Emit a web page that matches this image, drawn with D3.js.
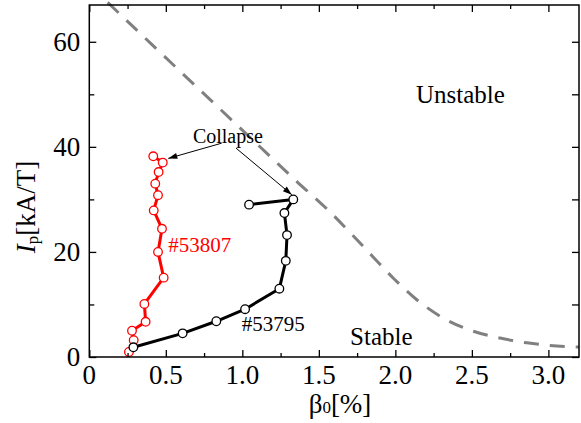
<!DOCTYPE html>
<html><head><meta charset="utf-8">
<script src="https://cdn.jsdelivr.net/npm/d3@7/dist/d3.min.js"></script>
</head><body style="margin:0">
<svg id="c" width="581" height="423" font-family="Liberation Serif"></svg>
<script>
// ---- data ----
const xTicks = [0, 0.5, 1.0, 1.5, 2.0, 2.5, 3.0];
const xTickLabels = ["0", "0.5", "1.0", "1.5", "2.0", "2.5", "3.0"];
const yTicks = [0, 20, 40, 60];
const yTickLabels = ["0", "20", "40", "60"];

const shotRedX = [0.259, 0.290, 0.279, 0.368, 0.360, 0.486, 0.449, 0.475, 0.421, 0.449, 0.431, 0.453, 0.480, 0.418];
const shotRedY = [0.95, 3.2, 5.0, 6.7, 10.1, 15.1, 20.0, 24.4, 27.9, 30.8, 33.0, 35.2, 37.0, 38.2];

const shotBlackX = [0.288, 0.610, 0.830, 1.018, 1.242, 1.284, 1.292, 1.275, 1.333, 1.044];
const shotBlackY = [1.85, 4.5, 6.8, 9.1, 13.0, 18.3, 23.2, 27.4, 30.0, 29.0];

const boundaryX = [0.12, 0.408, 0.8, 1.159, 1.356, 1.552, 1.704, 1.856, 1.987, 2.140, 2.314, 2.510, 2.684, 2.859, 3.055, 3.2];
const boundaryY = [67.5, 59.5, 48.7, 38.8, 33.4, 28.2, 23.7, 19.0, 15.0, 10.9, 7.4, 4.9, 3.6, 2.7, 2.1, 1.9];

// annotation arrows in data units
const arrowFrom = [[0.865, 40.7], [0.959, 39.75]];
const arrowTo = [[0.516, 37.8], [1.323, 30.9]];

// ---- layout ----
const W = 581, H = 423;
const m = {l: 89.3, r: 2, t: 5, b: 66};
const svg = d3.select("#c");
const x = d3.scaleLinear().domain([0, 3.2]).range([m.l, W - m.r]);
const y = d3.scaleLinear().domain([0, 67]).range([H - m.b, m.t]);

// boundary curve
const bnd = d3.zip(boundaryX, boundaryY);
svg.append("path").datum(bnd)
  .attr("d", d3.line().x(d => x(d[0])).y(d => y(d[1])).curve(d3.curveMonotoneX))
  .attr("fill", "none").attr("stroke", "#808080").attr("stroke-width", 3)
  .attr("stroke-dasharray", "15,11");

function series(xs, ys, col) {
  const pts = d3.zip(xs, ys);
  svg.append("path").datum(pts)
    .attr("d", d3.line().x(d => x(d[0])).y(d => y(d[1])))
    .attr("fill", "none").attr("stroke", col).attr("stroke-width", 3).attr("stroke-linejoin", "round");
  svg.selectAll(null).data(pts).enter().append("circle")
    .attr("cx", d => x(d[0])).attr("cy", d => y(d[1])).attr("r", 4.3)
    .attr("fill", "#fff").attr("stroke", col).attr("stroke-width", 1.3);
}
series(shotRedX, shotRedY, "#ff0000");
series(shotBlackX, shotBlackY, "#000");

// arrows with drawn heads
arrowFrom.forEach((f, i) => {
  const t = arrowTo[i];
  const x0 = x(f[0]), y0 = y(f[1]), x1 = x(t[0]), y1 = y(t[1]);
  svg.append("line").attr("x1", x0).attr("y1", y0).attr("x2", x1).attr("y2", y1)
    .attr("stroke", "#000").attr("stroke-width", 1);
  const a = Math.atan2(y1 - y0, x1 - x0), L = 9, Wd = 3;
  const bx = x1 - L * Math.cos(a), by = y1 - L * Math.sin(a);
  const px = -Math.sin(a) * Wd, py = Math.cos(a) * Wd;
  svg.append("path").attr("d", `M${x1},${y1}L${bx + px},${by + py}L${bx - px},${by - py}Z`).attr("fill", "#000");
});

// axes (ticks inward on all sides)
const major = 7, minor = 4;
function ax(gen, tr, vals, len) {
  svg.append("g").attr("transform", tr).call(gen.tickValues(vals).tickSize(len).tickFormat(""))
    .call(g => g.select(".domain").remove())
    .call(g => g.selectAll("line").attr("stroke", "#000").attr("stroke-width", 1.3));
}
const xMinor = [0.25, 0.75, 1.25, 1.75, 2.25, 2.75];
const yMinor = [10, 30, 50];
const bY = y(0), tY = y(67), lX = x(0), rX = x(3.2);
ax(d3.axisTop(x), `translate(0,${bY})`, xTicks, major);
ax(d3.axisTop(x), `translate(0,${bY})`, xMinor, minor);
ax(d3.axisBottom(x), `translate(0,${tY})`, xTicks, major);
ax(d3.axisBottom(x), `translate(0,${tY})`, xMinor, minor);
ax(d3.axisRight(y), `translate(${lX},0)`, yTicks, major);
ax(d3.axisRight(y), `translate(${lX},0)`, yMinor, minor + 1);
ax(d3.axisLeft(y), `translate(${rX},0)`, yTicks, major);
ax(d3.axisLeft(y), `translate(${rX},0)`, yMinor, major);

svg.append("rect").attr("x", lX).attr("y", tY).attr("width", rX - lX).attr("height", bY - tY)
  .attr("fill", "none").attr("stroke", "#000").attr("stroke-width", 1.5);

// ---- texts ----
const fs = 27;
svg.selectAll("text.xt").data(xTicks).enter().append("text")
  .attr("font-family", "Liberation Serif")
  .attr("x", d => x(d)).attr("y", bY + 27).attr("text-anchor", "middle")
  .attr("font-size", fs).text((d, i) => xTickLabels[i]);
svg.selectAll("text.yt").data(yTicks).enter().append("text")
  .attr("font-family", "Liberation Serif")
  .attr("x", lX - 9).attr("y", d => y(d) + 9).attr("text-anchor", "end")
  .attr("font-size", fs).text((d, i) => yTickLabels[i]);

const xt = svg.append("text").attr("font-family", "Liberation Serif").attr("x", 340).attr("y", 413)
  .attr("text-anchor", "middle").attr("font-size", fs);
xt.append("tspan").text("β");
xt.append("tspan").attr("font-size", 17).text("0");
xt.append("tspan").text("[%]");

const yl = svg.append("text").attr("font-family", "Liberation Serif").attr("transform", "translate(35,207) rotate(-90)")
  .attr("text-anchor", "middle").attr("font-size", fs);
yl.append("tspan").attr("font-style", "italic").text("I");
yl.append("tspan").attr("font-size", 17).attr("dy", 3).text("p");
yl.append("tspan").attr("dy", -3).text("[kA/T]");

const annX = [2.135, 1.704, 0.677, 0.516, 0.996];
const annY = [48.4, 2.3, 40.8, 19.9, 5.0];
const annText = ["Unstable", "Stable", "Collapse", "#53807", "#53795"];
const annSize = [25, 25, 20, 21, 21];
const annCol = ["#000", "#000", "#000", "#ff0000", "#000"];
svg.selectAll("text.ann").data(annText).enter().append("text")
  .attr("font-family", "Liberation Serif")
  .attr("x", (d, i) => x(annX[i])).attr("y", (d, i) => y(annY[i]))
  .attr("font-size", (d, i) => annSize[i]).attr("fill", (d, i) => annCol[i]).text(d => d);
</script>
</body></html>
